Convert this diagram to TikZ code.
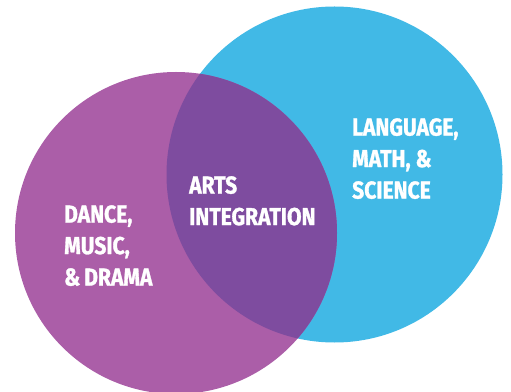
\documentclass[tikz,border=0pt]{standalone}
\usepackage{fontspec}
\newfontfamily\vennfont[FakeStretch=0.86, FakeBold=1.2]{Fira Sans}
\definecolor{artspurple}{HTML}{AB5EA8}
\definecolor{coreblue}{HTML}{41B9E6}
\definecolor{overlapviolet}{HTML}{7E4C9F}
\tikzset{
    venntext/.style={text=white, align=left, anchor=north west, inner sep=0pt,
        font=\vennfont\bfseries\fontsize{24.5}{31.5}\selectfont}
}
\begin{document}
\begin{tikzpicture}[x=1pt, y=1pt]
                    \useasboundingbox (0, 0) rectangle (511, 391);

                    \coordinate (Blue) at (334.5, 216.5);
                    \coordinate (Purple) at (176, 158);

                    \fill[coreblue]   (Blue) circle (168);
                    \fill[artspurple] (Purple) circle (161);
                    \begin{scope}
                        \clip (Blue) circle (168);
                        \fill[overlapviolet] (Purple) circle (161);
                    \end{scope}

                    \node[venntext] (arts) at (64, 186) {DANCE,\\MUSIC,\\\&\,DRAMA};
                    \node[venntext] (integration) at (189, 215) {ARTS\\INTEGRATION};
                    \node[venntext] (core) at (352, 273) {LANGUAGE,\\MATH, \&\\SCIENCE};

                \end{tikzpicture}
\end{document}
